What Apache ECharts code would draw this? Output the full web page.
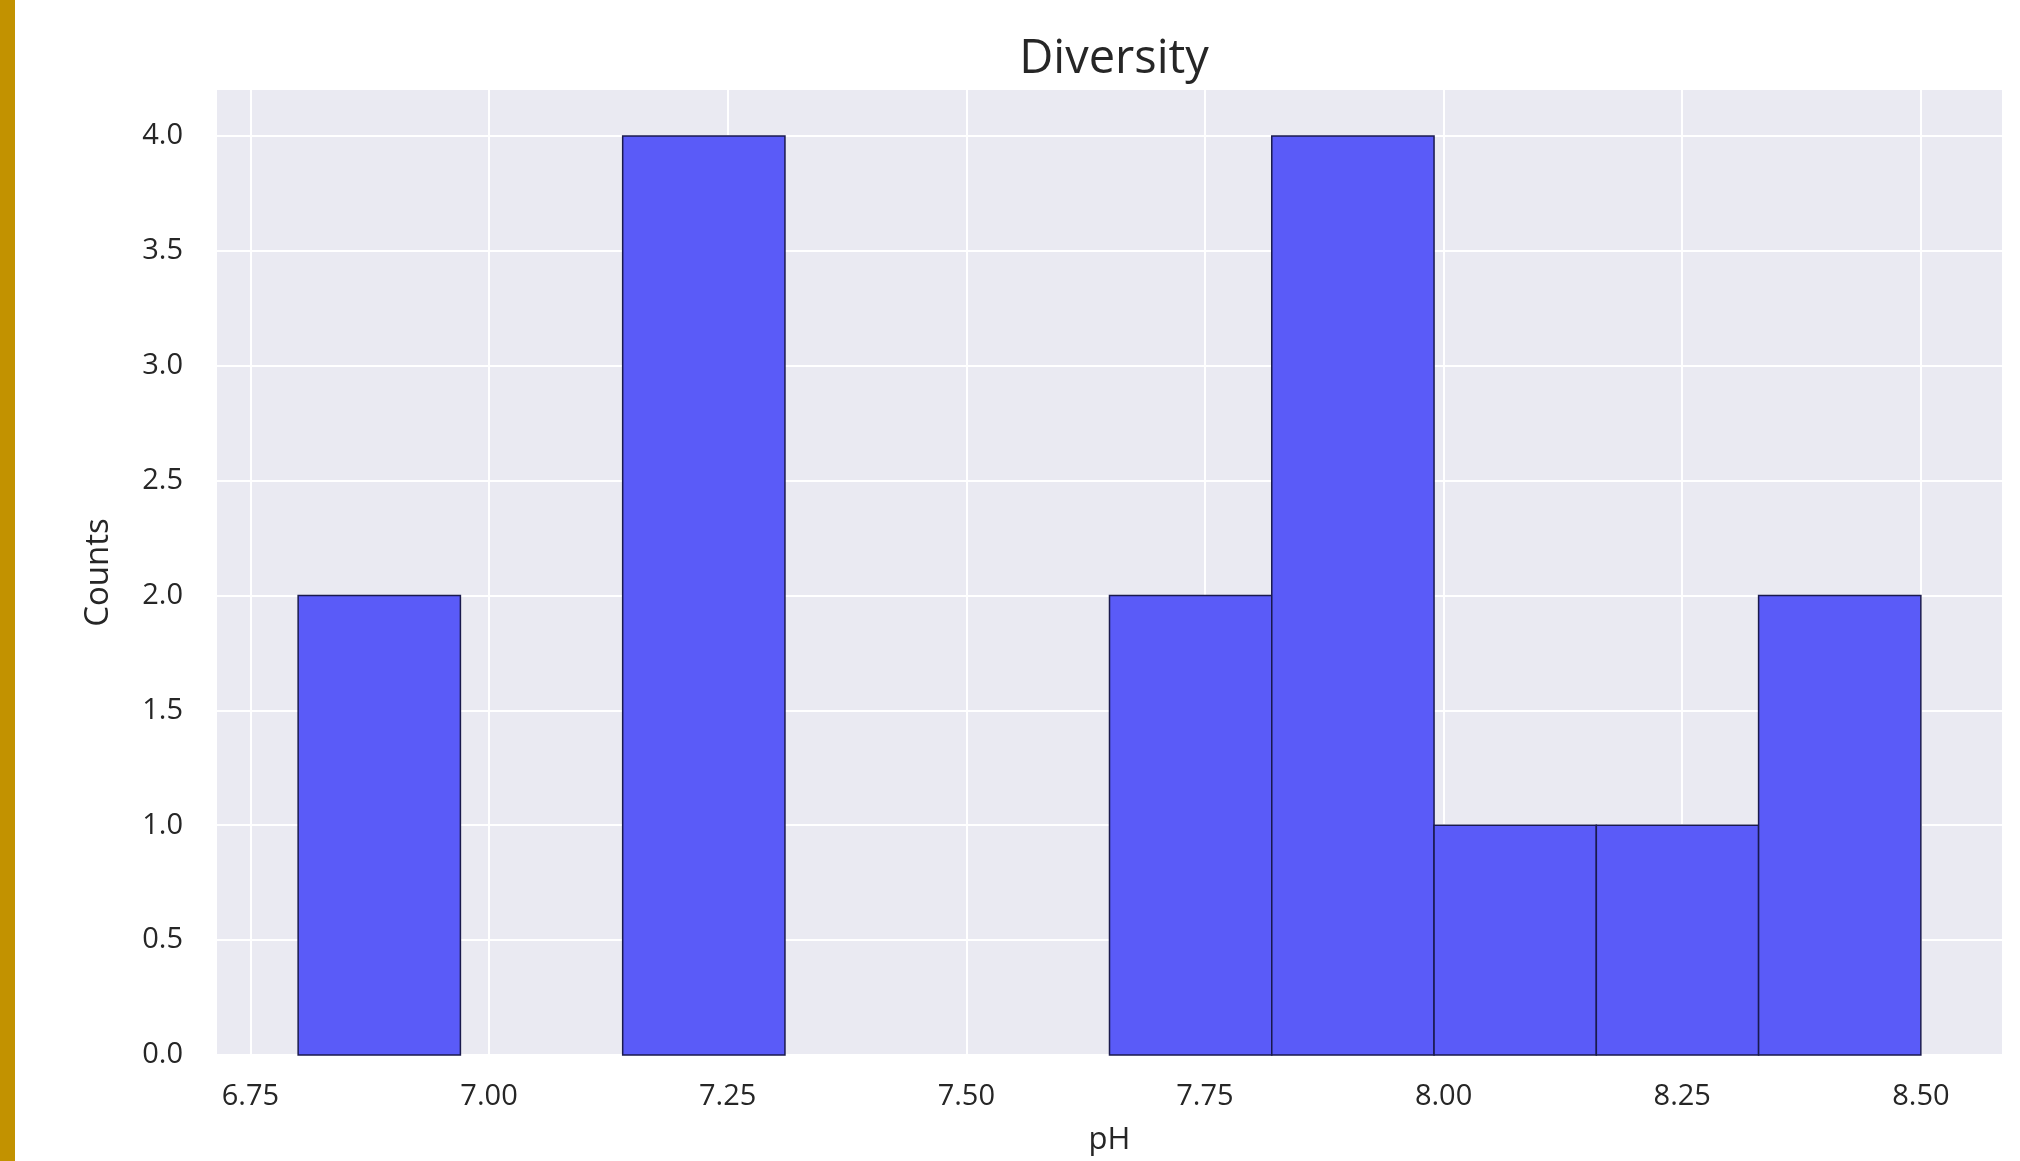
<!DOCTYPE html>
<html>
<head>
<meta charset="utf-8">
<script src="https://cdn.jsdelivr.net/npm/echarts@6/dist/echarts.min.js"></script>
<style>html,body{margin:0;padding:0;background:#fff;}#c{width:2020px;height:1161px;}</style>
</head>
<body>
<div id="c"></div>
<script>
const binEdges = [6.80, 6.97, 7.14, 7.31, 7.48, 7.65, 7.82, 7.99, 8.16, 8.33, 8.50];
const counts = [2, 0, 4, 0, 0, 2, 4, 1, 1, 2];
const xTicks = [6.75, 7.00, 7.25, 7.50, 7.75, 8.00, 8.25, 8.50];
const yTicks = [0, 0.5, 1.0, 1.5, 2.0, 2.5, 3.0, 3.5, 4.0];

const barData = [];
for (let i = 0; i < counts.length; i++) {
  if (counts[i] > 0) barData.push([binEdges[i], binEdges[i + 1], counts[i]]);
}
const span = binEdges[binEdges.length - 1] - binEdges[0];
const xMin = binEdges[0] - span * 0.05;
const xMax = binEdges[binEdges.length - 1] + span * 0.05;
const yMax = Math.max(...counts) * 1.05;

const font = '"Open Sans", "Noto Sans", sans-serif';
const chart = echarts.init(document.getElementById('c'));
chart.setOption({
  animation: false,
  backgroundColor: '#ffffff',
  title: {
    text: 'Diversity', left: 1109, top: 31, textAlign: 'center',
    textStyle: { fontFamily: font, fontSize: 47, fontWeight: 'normal', color: '#262626' }
  },
  graphic: [{ type: 'rect', left: 0, top: 0, shape: { width: 15, height: 1161 }, style: { fill: '#c29200' } }],
  grid: { left: 217, right: 18, top: 90, bottom: 106, show: true, backgroundColor: '#eaeaf2', borderWidth: 0 },
  xAxis: {
    type: 'value', min: xMin, max: xMax,
    name: 'pH', nameLocation: 'middle', nameGap: 70,
    nameTextStyle: { fontFamily: font, fontSize: 31, color: '#262626' },
    axisLine: { show: false },
    axisTick: { show: false, customValues: xTicks },
    axisLabel: { customValues: xTicks, margin: 27, fontFamily: font, fontSize: 29, color: '#262626', formatter: v => v.toFixed(2) },
    splitLine: { show: true, lineStyle: { color: '#ffffff', width: 2 } }
  },
  yAxis: {
    type: 'value', min: 0, max: yMax,
    name: 'Counts', nameLocation: 'middle', nameGap: 102,
    nameTextStyle: { fontFamily: font, fontSize: 33, color: '#262626' },
    axisLine: { show: false },
    axisTick: { show: false, customValues: yTicks },
    axisLabel: { customValues: yTicks, margin: 34, fontFamily: font, fontSize: 29, color: '#262626', formatter: v => v.toFixed(1) },
    splitLine: { show: true, lineStyle: { color: '#ffffff', width: 2 } }
  },
  series: [{
    type: 'custom',
    data: barData,
    encode: { x: [0, 1], y: 2 },
    renderItem: function (params, api) {
      const p0 = api.coord([api.value(0), api.value(2)]);
      const p1 = api.coord([api.value(1), 0]);
      return {
        type: 'rect',
        shape: { x: p0[0], y: p0[1], width: p1[0] - p0[0], height: p1[1] - p0[1] },
        style: { fill: '#5a5bf8', stroke: '#1a1a4d', lineWidth: 1.5 }
      };
    }
  }]
});
</script>
</body>
</html>
